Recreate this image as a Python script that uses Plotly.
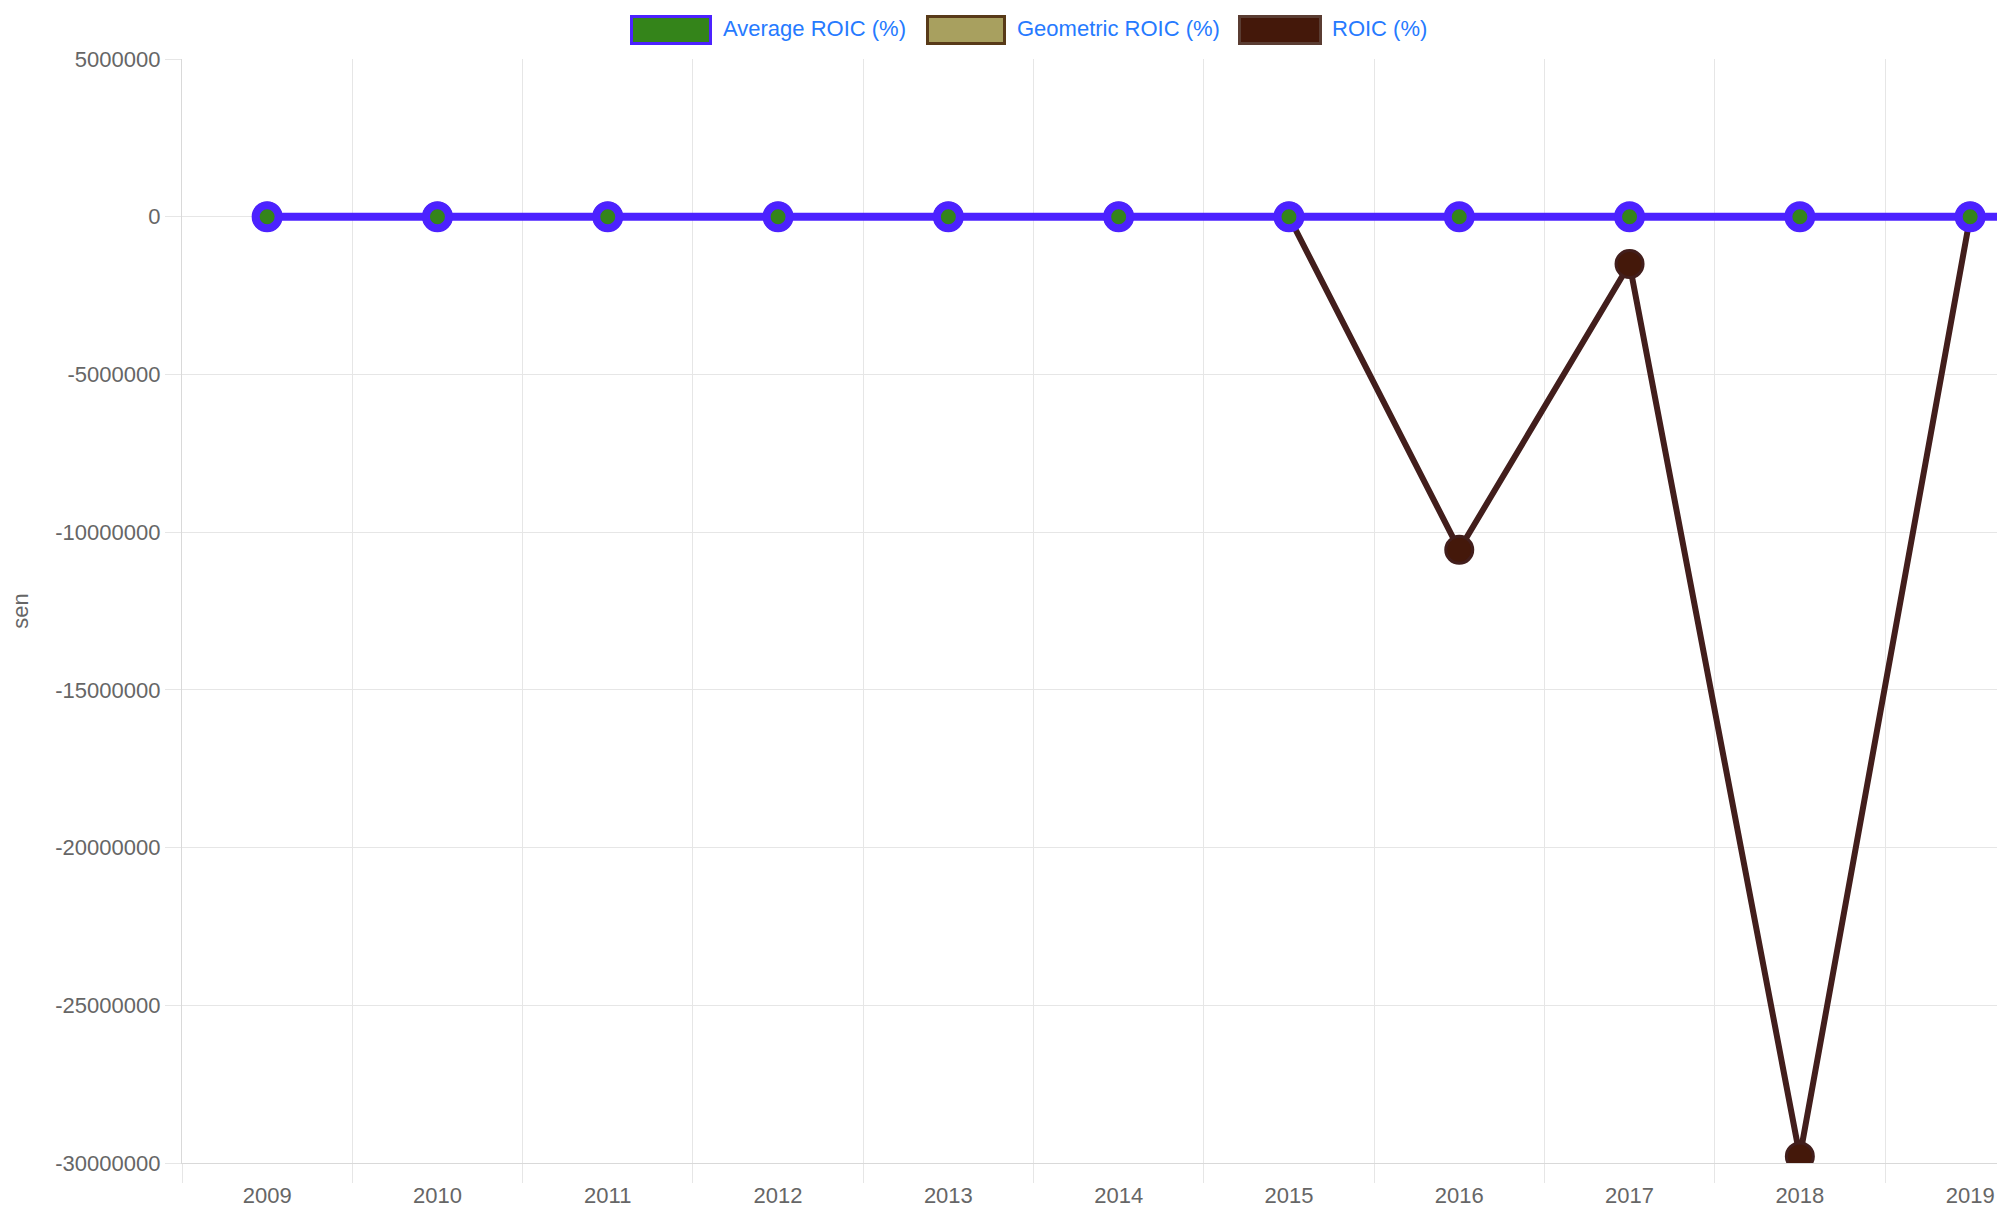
import plotly.graph_objects as go

years = ["2009", "2010", "2011", "2012", "2013", "2014", "2015", "2016", "2017", "2018", "2019", "2020"]
average_roic = [0, 0, 0, 0, 0, 0, 0, 0, 0, 0, 0, 0]
geometric_roic = [0, 0, 0, 0, 0, 0, 0, 0, 0, 0, 0, 0]
roic = [0, 0, 0, 0, 0, 0, 0, -10560000, -1500000, -29790000, 0, 0]
y_ticks = [5000000, 0, -5000000, -10000000, -15000000, -20000000, -25000000, -30000000]
y_tick_labels = ["5000000", "0", "-5000000", "-10000000", "-15000000", "-20000000", "-25000000", "-30000000"]

W, H = 1997, 1209
L, R, T, B = 182, 0, 59, H - 1163
FONT = "Liberation Sans, Arial, Helvetica, sans-serif"
BLUE = "rgb(76,34,255)"
GREEN = "rgb(52,132,26)"
BROWN_LINE = "rgb(66,30,28)"
BROWN_FILL = "rgb(68,24,10)"
KHAKI = "rgb(168,160,95)"
KHAKI_BORDER = "rgb(88,58,24)"
LEG_TEXT = "rgb(38,122,255)"
GRID = "#e6e6e6"
CAT_W = 170.3
x_end = -0.5 + (W - L) / CAT_W

fig = go.Figure()
fig.add_trace(go.Scatter(
    x=years, y=roic, mode="lines+markers", name="ROIC (%)",
    line=dict(color=BROWN_LINE, width=6),
    marker=dict(size=27, color=BROWN_FILL, line=dict(color=BROWN_LINE, width=3)),
    showlegend=False, cliponaxis=True))
fig.add_trace(go.Scatter(
    x=years, y=geometric_roic, mode="lines+markers", name="Geometric ROIC (%)",
    line=dict(color=KHAKI_BORDER, width=6),
    marker=dict(size=24, color=KHAKI, line=dict(color=KHAKI_BORDER, width=3)),
    showlegend=False, cliponaxis=True))
fig.add_trace(go.Scatter(
    x=years, y=average_roic, mode="lines+markers", name="Average ROIC (%)",
    line=dict(color=BLUE, width=8),
    marker=dict(size=23, color=GREEN, line=dict(color=BLUE, width=8)),
    showlegend=False, cliponaxis=True))

pw = W - L - R
ph = H - T - B


def px_x(x):
    return (x - L) / pw


def px_y(y):
    return (H - B - y) / ph


legend_items = [
    ("Average ROIC (%)", GREEN, BLUE, 630, 712, 721),
    ("Geometric ROIC (%)", KHAKI, KHAKI_BORDER, 926, 1006, 1015),
    ("ROIC (%)", BROWN_FILL, "rgb(90,60,50)", 1238, 1322, 1330),
]
shapes = []
annotations = []
for label, fill, border, x0, x1, tx in legend_items:
    shapes.append(dict(type="rect", xref="paper", yref="paper",
                       x0=px_x(x0 + 1.5), x1=px_x(x1 - 1.5), y0=px_y(43.5), y1=px_y(16.5),
                       fillcolor=fill, line=dict(color=border, width=3), layer="above"))
    annotations.append(dict(text=label, xref="paper", yref="paper", x=px_x(tx), y=px_y(29),
                            xanchor="left", yanchor="middle", showarrow=False,
                            font=dict(family=FONT, size=22, color=LEG_TEXT)))

fig.update_layout(
    width=W, height=H,
    margin=dict(l=L, r=R, t=T, b=B, pad=0),
    paper_bgcolor="white", plot_bgcolor="white",
    font=dict(family=FONT, size=22, color="#666666"),
    showlegend=False,
    hovermode=False,
    shapes=shapes,
    annotations=annotations,
    xaxis=dict(
        type="category", tickson="boundaries", range=[-0.5, x_end],
        automargin=False,
        showgrid=True, gridcolor=GRID, gridwidth=1.3,
        ticks="outside", ticklen=19, tickcolor=GRID, tickwidth=1.3,
        ticklabelstandoff=12,
        showline=True, linecolor="#d9d9d9", linewidth=1.3,
        tickfont=dict(family=FONT, size=22, color="#666666"),
        zeroline=False, fixedrange=True,
    ),
    yaxis=dict(
        range=[-30000000, 5000000], tickvals=y_ticks, ticktext=y_tick_labels,
        automargin=False,
        showgrid=True, gridcolor=GRID, gridwidth=1.3,
        ticks="outside", ticklen=16, tickcolor=GRID, tickwidth=1.3,
        showline=True, linecolor="#d9d9d9", linewidth=1.3,
        zeroline=False,
        tickfont=dict(family=FONT, size=22, color="#666666"),
        title=dict(text="sen", font=dict(family=FONT, size=22, color="#666666"), standoff=20),
    ),
)

fig.write_html(
    "out.html",
    config={"displayModeBar": False},
    post_script="document.body.style.margin='0';document.body.style.overflow='hidden';",
)
